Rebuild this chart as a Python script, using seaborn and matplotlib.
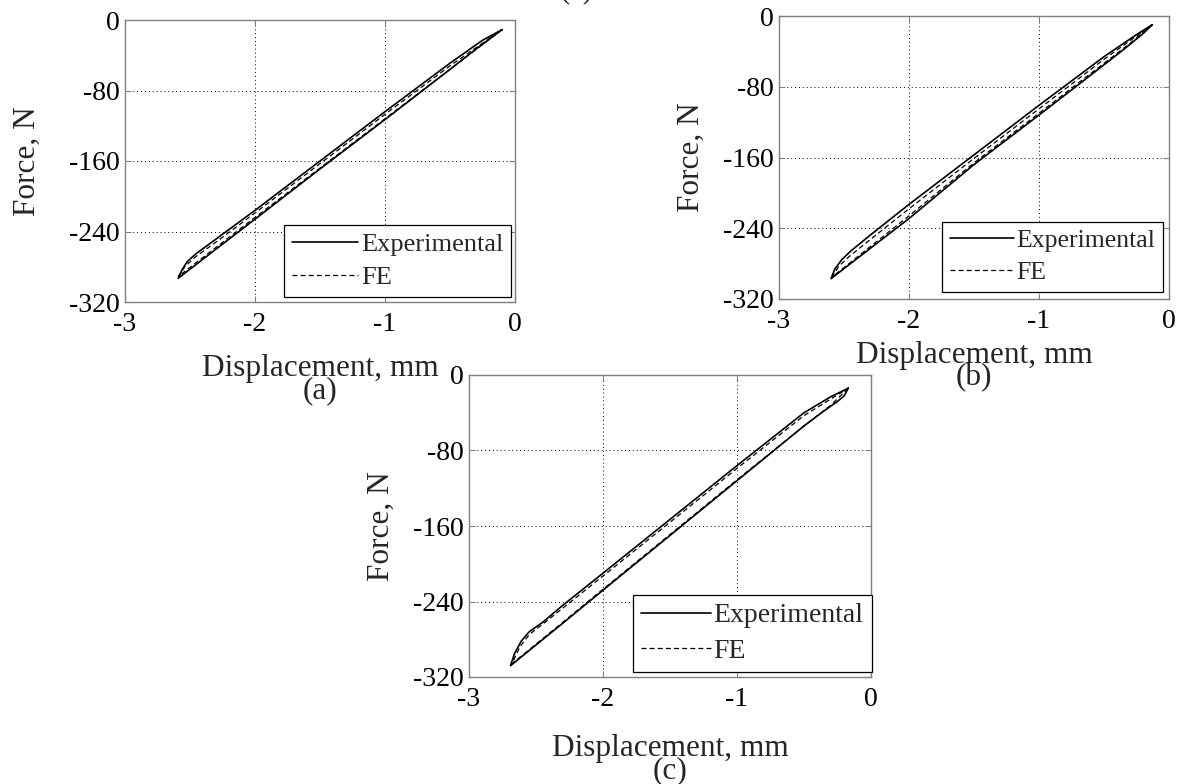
import numpy as np
import pandas as pd
import matplotlib
matplotlib.use("Agg")
import matplotlib.pyplot as plt
import seaborn as sns

# ---------------- data ----------------
x_ticks = [-3, -2, -1, 0]
y_ticks = [-320, -240, -160, -80, 0]
x_tick_labels = ["-3", "-2", "-1", "0"]
y_tick_labels = ["-320", "-240", "-160", "-80", "0"]
panel_labels = ["(a)", "(b)", "(c)"]
series_names = ["Experimental", "FE"]

# Panel (a)
a_exp_x = [-0.10, -0.30, -0.50, -1.00, -1.50, -2.00, -2.30, -2.59,
           -2.56, -2.52, -2.46, -2.35, -2.00, -1.50, -1.00, -0.50, -0.25, -0.10]
a_exp_y = [-11, -33, -56, -113, -169, -226, -260, -293,
           -283, -274, -266, -254, -216, -160, -104, -49, -23, -11]
a_fe_x = [-0.10, -0.50, -1.00, -1.50, -2.00, -2.30, -2.59,
          -2.54, -2.46, -2.30, -2.00, -1.50, -1.00, -0.50, -0.10]
a_fe_y = [-11, -56, -112, -168, -224, -258, -291,
          -280, -269, -252, -219, -163, -107, -52, -11]

# Panel (b)
b_exp_x = [-0.13, -0.20, -0.35, -0.70, -1.00, -1.50, -2.00, -2.30, -2.60,
           -2.57, -2.52, -2.45, -2.30, -2.00, -1.50, -1.00, -0.50, -0.25, -0.13]
b_exp_y = [-10, -20, -38, -78, -112, -168, -229, -263, -297,
           -286, -276, -266, -248, -213, -157, -101, -46, -21, -10]
b_fe_x = [-0.13, -0.30, -0.70, -1.00, -1.50, -2.00, -2.30, -2.59,
          -2.54, -2.46, -2.30, -2.00, -1.50, -1.00, -0.50, -0.13]
b_fe_y = [-10, -31, -76, -110, -166, -226, -261, -295,
          -283, -272, -253, -218, -161, -105, -49, -10]

# Panel (c)
c_exp_x = [-0.17, -0.20, -0.25, -0.35, -0.50, -1.00, -1.50, -2.00, -2.30, -2.69,
           -2.66, -2.61, -2.55, -2.45, -2.30, -2.00, -1.50, -1.00, -0.50, -0.30, -0.17]
c_exp_y = [-14, -22, -28, -38, -54, -112, -170, -228, -263, -308,
           -295, -282, -272, -262, -244, -210, -153, -96, -40, -23, -14]
c_fe_x = [-0.17, -0.30, -0.50, -1.00, -1.50, -2.00, -2.30, -2.68,
          -2.62, -2.55, -2.45, -2.30, -2.00, -1.50, -1.00, -0.50, -0.17]
c_fe_y = [-14, -32, -54, -111, -169, -227, -262, -306,
          -288, -275, -264, -247, -213, -156, -99, -43, -14]

panels = [
    (a_exp_x, a_exp_y, a_fe_x, a_fe_y),
    (b_exp_x, b_exp_y, b_fe_x, b_fe_y),
    (c_exp_x, c_exp_y, c_fe_x, c_fe_y),
]

# ---------------- style ----------------
sns.set_theme(style="white")
plt.rcParams["font.family"] = ["Liberation Serif", "DejaVu Serif"]

W, H = 1181, 784
fig = plt.figure(figsize=(W / 100, H / 100), dpi=100)

# axes rectangles in pixels: left, top, right, bottom
rects_px = [
    (125, 20, 515, 302),
    (779, 16, 1169, 299),
    (469, 375, 871, 677),
]
legend_anchor = [(0.990, 0.018), (0.985, 0.025), (1.002, 0.017)]
legend_size = [19, 18.5, 20]
xlabel_pad = [12.5, 5, 16]
ylabel_pad = [19, 12, 12]
spine_col = "#808080"

for i, ((ex, ey, fx, fy), (l, t, r, b)) in enumerate(zip(panels, rects_px)):
    ax = fig.add_axes([l / W, 1 - b / H, (r - l) / W, (b - t) / H])
    df_e = pd.DataFrame({"x": ex, "y": ey})
    df_f = pd.DataFrame({"x": fx, "y": fy})
    sns.lineplot(data=df_e, x="x", y="y", sort=False, estimator=None, ax=ax,
                 color="black", lw=1.2, label=series_names[0])
    sns.lineplot(data=df_f, x="x", y="y", sort=False, estimator=None, ax=ax,
                 color="black", lw=0.9, linestyle=(0, (4, 2.5)),
                 label=series_names[1])
    ax.set_xlim(-3, 0)
    ax.set_ylim(-320, 0)
    ax.set_xticks(x_ticks)
    ax.set_xticklabels(x_tick_labels)
    ax.set_yticks(y_ticks)
    ax.set_yticklabels(y_tick_labels)
    ax.grid(True, linestyle=(0, (1, 3)), color="black", lw=0.7)
    for s in ax.spines.values():
        s.set_visible(True)
        s.set_color(spine_col)
        s.set_linewidth(1.0)
    ax.tick_params(axis="both", direction="in", length=4, width=0.8,
                   colors=spine_col, labelcolor="black", labelsize=20,
                   top=True, right=True, bottom=True, left=True)
    ax.tick_params(axis="x", pad=7)
    ax.tick_params(axis="y", pad=4)
    # x-label with the panel label on a second, tightly spaced line
    ax.set_xlabel("Displacement, mm\n" + panel_labels[i], fontsize=22.5,
                  labelpad=xlabel_pad[i], linespacing=0.68,
                  multialignment="center")
    ax.set_ylabel("Force, N", fontsize=22.5, labelpad=ylabel_pad[i])
    leg = ax.legend(loc="lower right", bbox_to_anchor=legend_anchor[i],
                    fontsize=legend_size[i], frameon=True, fancybox=False,
                    handlelength=2.5, handletextpad=0.1, borderpad=0.3,
                    labelspacing=0.35, borderaxespad=0.0)
    leg.get_frame().set_edgecolor("black")
    leg.get_frame().set_linewidth(0.9)
    leg.get_frame().set_alpha(1)

# partially visible label clipped at the very top of the figure
fig.text(577 / W, 1 + 3 / H, "(a)", ha="center", va="baseline", fontsize=22)

fig.savefig("out.png", dpi=100, facecolor="white")
